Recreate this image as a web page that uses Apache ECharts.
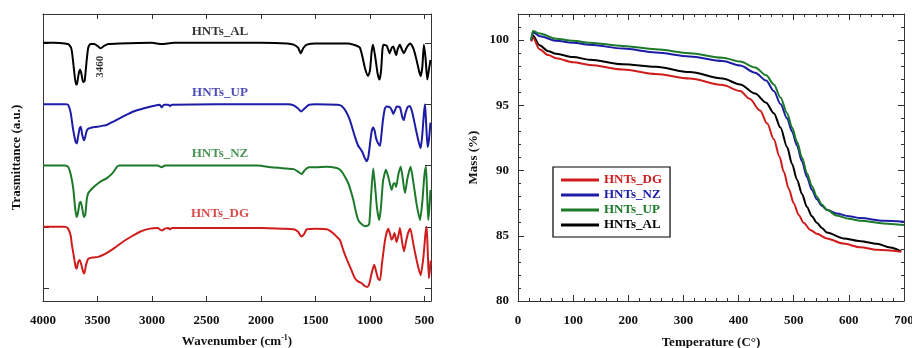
<!DOCTYPE html>
<html>
<head>
<meta charset="utf-8">
<script src="https://cdn.jsdelivr.net/npm/echarts@6/dist/echarts.min.js"></script>
<style>html,body{margin:0;padding:0;background:#fff}#c{width:912px;height:348px}</style>
</head>
<body>
<div id="c"></div>
<script>
// ---------- FTIR data: [wavenumber, stacked transmittance (a.u.)] ----------
const ftirAL = [[4000,4.0],[3900,4.0],[3800,3.99],[3760,3.97],[3737,3.88],[3715,3.55],[3697,3.32],[3688,3.33],[3672,3.5],[3660,3.56],[3648,3.5],[3632,3.36],[3618,3.38],[3600,3.7],[3585,3.92],[3565,3.98],[3530,3.98],[3500,3.95],[3470,3.91],[3440,3.95],[3400,3.98],[3300,3.99],[3000,4.0],[2911,3.98],[2800,4.0],[2000,4.0],[1760,3.99],[1700,3.97],[1660,3.92],[1635,3.83],[1610,3.92],[1580,3.97],[1500,3.99],[1200,3.99],[1150,3.97],[1120,3.95],[1092,3.92],[1070,3.78],[1045,3.58],[1018,3.46],[1000,3.55],[985,3.85],[972,3.97],[950,3.75],[930,3.5],[912,3.4],[898,3.55],[885,3.9],[875,3.97],[845,3.95],[820,3.83],[800,3.92],[786,3.94],[770,3.85],[760,3.8],[745,3.9],[725,3.97],[705,3.88],[688,3.83],[670,3.9],[650,3.96],[630,3.99],[600,3.9],[570,3.7],[548,3.53],[535,3.46],[520,3.6],[505,3.97],[490,3.75],[474,3.40],[460,3.55],[445,3.72]];
const ftirUP = [[4000,3.0],[3800,3.0],[3770,2.99],[3745,2.85],[3725,2.6],[3700,2.38],[3690,2.36],[3680,2.45],[3665,2.6],[3654,2.63],[3640,2.5],[3625,2.41],[3615,2.45],[3600,2.56],[3584,2.6],[3550,2.62],[3500,2.63],[3450,2.65],[3416,2.66],[3350,2.72],[3263,2.80],[3171,2.88],[3080,2.93],[2990,2.97],[2930,2.99],[2911,2.95],[2890,2.99],[2850,2.99],[2835,2.97],[2815,2.99],[2000,3.0],[1750,3.0],[1700,2.98],[1660,2.93],[1630,2.88],[1600,2.93],[1560,2.99],[1500,3.0],[1300,2.99],[1260,2.97],[1220,2.88],[1184,2.74],[1160,2.6],[1138,2.47],[1110,2.33],[1092,2.28],[1070,2.22],[1050,2.13],[1030,2.07],[1015,2.14],[1000,2.35],[985,2.55],[970,2.62],[955,2.55],[945,2.45],[925,2.36],[908,2.32],[895,2.5],[880,2.75],[863,2.93],[847,2.96],[817,2.95],[800,2.9],[786,2.84],[770,2.9],[755,2.96],[725,2.95],[705,2.8],[690,2.74],[675,2.85],[655,2.95],[633,2.97],[610,2.85],[580,2.6],[555,2.4],[535,2.28],[520,2.5],[505,2.85],[495,3.0],[485,2.7],[471,2.3],[460,2.4],[445,2.7]];
const ftirNZ = [[4000,2.0],[3800,2.0],[3770,1.98],[3745,1.85],[3722,1.62],[3705,1.3],[3691,1.16],[3680,1.22],[3665,1.38],[3654,1.41],[3640,1.3],[3625,1.16],[3612,1.2],[3598,1.45],[3584,1.55],[3540,1.64],[3493,1.71],[3450,1.76],[3416,1.79],[3360,1.88],[3320,1.98],[3300,2.0],[2950,2.0],[2911,1.97],[2880,2.0],[2030,2.0],[1900,1.97],[1764,1.95],[1700,1.94],[1660,1.9],[1627,1.86],[1600,1.92],[1560,1.97],[1500,1.97],[1400,1.98],[1306,1.96],[1275,1.93],[1240,1.85],[1199,1.71],[1175,1.58],[1153,1.44],[1130,1.25],[1107,1.11],[1075,1.04],[1046,1.01],[1020,1.02],[1006,1.05],[990,1.5],[970,1.95],[955,1.7],[935,1.3],[915,1.11],[900,1.3],[880,1.75],[853,1.93],[830,1.8],[801,1.6],[785,1.7],[771,1.71],[760,1.65],[740,1.85],[718,1.98],[700,1.8],[679,1.55],[655,1.8],[627,1.98],[600,1.7],[570,1.35],[541,1.11],[520,1.4],[500,1.85],[486,1.98],[475,1.5],[465,1.11],[455,1.3],[445,1.6]];
const ftirDG = [[4000,1.0],[3800,1.0],[3770,0.97],[3745,0.85],[3737,0.73],[3715,0.5],[3700,0.34],[3691,0.32],[3678,0.42],[3663,0.46],[3648,0.38],[3630,0.26],[3621,0.24],[3605,0.38],[3584,0.48],[3540,0.5],[3493,0.51],[3450,0.54],[3416,0.57],[3340,0.66],[3263,0.76],[3180,0.85],[3110,0.92],[3018,0.97],[2950,0.98],[2911,0.94],[2880,0.97],[2850,0.98],[2835,0.96],[2815,0.98],[2000,0.98],[1800,0.97],[1700,0.96],[1660,0.92],[1630,0.84],[1605,0.88],[1580,0.96],[1500,0.97],[1397,0.96],[1340,0.9],[1306,0.84],[1275,0.78],[1245,0.62],[1215,0.48],[1184,0.35],[1160,0.25],[1138,0.16],[1110,0.11],[1076,0.08],[1045,0.03],[1024,0.02],[1005,0.08],[985,0.24],[961,0.38],[945,0.28],[925,0.15],[908,0.13],[890,0.4],[860,0.8],[832,0.97],[815,0.88],[802,0.79],[790,0.82],[775,0.9],[756,0.75],[740,0.85],[725,0.98],[705,0.75],[688,0.6],[670,0.75],[650,0.9],[630,0.97],[600,0.7],[565,0.4],[535,0.21],[510,0.5],[490,0.9],[480,1.0],[470,0.6],[459,0.16],[450,0.3],[442,0.45]];
const ftirTicks = [4000, 3500, 3000, 2500, 2000, 1500, 1000, 500];
const ftirYTicks = [0, 1, 2, 3, 4];
// annotation text anchors in data coordinates [wavenumber, a.u.]
const ftirNotes = [
  { text: 'HNTs_AL', at: [2376, 4.18], key: 'AL', rotate: 0 },
  { text: 'HNTs_UP', at: [2376, 3.18], key: 'UP', rotate: 0 },
  { text: 'HNTs_NZ', at: [2376, 2.20], key: 'NZ', rotate: 0 },
  { text: 'HNTs_DG', at: [2376, 1.21], key: 'DG', rotate: 0 },
  { text: '3460', at: [3477, 3.61], key: 'AL', rotate: 90 }
];

// ---------- TGA data: [temperature °C, mass %] ----------
const tgaDG = [[24,99.9],[27,100.2],[39,99.3],[55,98.85],[69,98.6],[100,98.3],[130,98.1],[190,97.75],[250,97.4],[311,97.05],[371,96.55],[403,96.1],[420,95.5],[439,94.6],[452,93.6],[464,92.4],[474,91.1],[482,89.9],[491,88.6],[500,87.5],[509,86.6],[518,86.0],[530,85.45],[542,85.15],[560,84.8],[590,84.4],[621,84.12],[651,83.92],[695,83.78]];
const tgaNZ = [[24,100.0],[27,100.6],[40,100.3],[69,99.95],[100,99.8],[130,99.65],[190,99.35],[250,99.05],[311,98.75],[371,98.4],[403,98.05],[430,97.5],[450,96.9],[464,96.1],[476,95.1],[488,94.0],[497,93.0],[506,91.9],[515,90.7],[524,89.5],[533,88.5],[542,87.8],[551,87.3],[560,87.0],[578,86.7],[600,86.5],[621,86.36],[663,86.15],[700,86.08]];
const tgaUP = [[24,100.0],[27,100.7],[40,100.5],[69,100.1],[100,99.95],[130,99.8],[190,99.55],[250,99.3],[311,99.0],[371,98.65],[403,98.35],[430,97.9],[450,97.3],[464,96.6],[476,95.6],[488,94.4],[497,93.3],[506,92.2],[515,91.0],[524,89.8],[533,88.8],[542,88.0],[551,87.4],[560,87.0],[578,86.55],[600,86.3],[621,86.15],[663,85.95],[700,85.82]];
const tgaAL = [[24,99.95],[27,100.35],[39,99.6],[55,99.15],[69,98.95],[100,98.7],[130,98.5],[190,98.15],[250,97.95],[311,97.55],[371,97.05],[403,96.6],[430,95.9],[450,95.2],[464,94.4],[476,93.3],[488,91.8],[497,90.5],[506,89.3],[515,88.2],[524,87.2],[533,86.5],[542,86.0],[551,85.6],[560,85.25],[590,84.8],[621,84.58],[651,84.38],[675,84.1],[695,83.8]];
const legendOrder = ['HNTs_DG', 'HNTs_NZ', 'HNTs_UP', 'HNTs_AL'];

// ---------- styling ----------
const RED = '#cf1d1d', BLUE = '#1c1ca6', GREEN = '#1d7a2a', BLACK = '#000000';
const ftirColors = { AL: BLACK, UP: BLUE, NZ: GREEN, DG: RED };
const tgaColors = { HNTs_DG: RED, HNTs_NZ: BLUE, HNTs_UP: GREEN, HNTs_AL: BLACK };
const FONT = 'Liberation Serif';
const AX = '#333';

const chart = echarts.init(document.getElementById('c'), null, { renderer: 'canvas' });

const baseText = { fontFamily: FONT, fontWeight: 'bold', fontSize: 13, color: '#111' };

function frameAxis(o) {
  return Object.assign({
    axisLine: { show: true, onZero: false, lineStyle: { color: AX, width: 1 } },
    axisTick: { show: true, inside: true, length: 5, lineStyle: { color: AX } },
    axisLabel: { show: false },
    splitLine: { show: false }
  }, o);
}

const option = {
  animation: false,
  backgroundColor: '#fff',
  grid: [
    { left: 43, top: 14, width: 388, height: 287, containLabel: false, outerBoundsMode: 'none' },
    { left: 518, top: 14, width: 386, height: 287, containLabel: false, outerBoundsMode: 'none' }
  ],
  xAxis: [
    frameAxis({ gridIndex: 0, type: 'value', min: 440, max: 4000, inverse: true, position: 'bottom',
      axisTick: { show: true, inside: true, length: 5, customValues: ftirTicks, lineStyle: { color: AX } },
      axisLabel: Object.assign({ show: true, margin: 13, customValues: ftirTicks, formatter: v => String(v) }, baseText),
      name: 'Wavenumber (cm{sup|-1})', nameLocation: 'middle', nameGap: 33,
      nameTextStyle: Object.assign({}, baseText, { rich: { sup: { fontFamily: FONT, fontWeight: 'bold', fontSize: 8, padding: [0, 0, 8, 0] } } }) }),
    frameAxis({ gridIndex: 0, type: 'value', min: 440, max: 4000, inverse: true, position: 'top',
      axisTick: { show: true, inside: true, length: 5, customValues: ftirTicks, lineStyle: { color: AX } } }),
    frameAxis({ gridIndex: 1, type: 'value', min: 0, max: 700, interval: 100, position: 'bottom',
      minorTick: { show: true, splitNumber: 5, length: 3, lineStyle: { color: AX } },
      axisTick: { show: true, inside: true, length: 6, lineStyle: { color: AX } },
      axisLabel: Object.assign({ show: true, margin: 13, formatter: v => String(v) }, baseText),
      name: 'Temperature (C°)', nameLocation: 'middle', nameGap: 35, nameTextStyle: baseText }),
    frameAxis({ gridIndex: 1, type: 'value', min: 0, max: 700, interval: 100, position: 'top',
      minorTick: { show: true, splitNumber: 5, length: 3, lineStyle: { color: AX } },
      axisTick: { show: true, inside: true, length: 6, lineStyle: { color: AX } } })
  ],
  yAxis: [
    frameAxis({ gridIndex: 0, type: 'value', min: -0.21, max: 4.47, position: 'left',
      axisTick: { show: true, inside: true, length: 6, customValues: ftirYTicks, lineStyle: { color: AX } },
      name: 'Trasmittance (a.u.)', nameLocation: 'middle', nameGap: 20, nameTextStyle: baseText }),
    frameAxis({ gridIndex: 0, type: 'value', min: -0.21, max: 4.47, position: 'right',
      axisTick: { show: true, inside: true, length: 6, customValues: ftirYTicks, lineStyle: { color: AX } } }),
    frameAxis({ gridIndex: 1, type: 'value', min: 80, max: 102, interval: 5, position: 'left',
      minorTick: { show: true, splitNumber: 5, length: 3, lineStyle: { color: AX } },
      axisTick: { show: true, inside: true, length: 6, lineStyle: { color: AX } },
      axisLabel: Object.assign({ show: true, margin: 9, showMaxLabel: false }, baseText),
      name: 'Mass (%)', nameLocation: 'middle', nameGap: 38, nameTextStyle: baseText }),
    frameAxis({ gridIndex: 1, type: 'value', min: 80, max: 102, interval: 5, position: 'right',
      minorTick: { show: true, splitNumber: 5, length: 3, lineStyle: { color: AX } },
      axisTick: { show: true, inside: true, length: 6, lineStyle: { color: AX } } })
  ],
  legend: {
    orient: 'vertical', left: 553, top: 167,
    padding: [6, 8, 5, 8], borderColor: '#000', borderWidth: 1.2, borderRadius: 0,
    itemWidth: 38, itemHeight: 3, itemGap: 1, icon: 'rect',
    textStyle: { fontFamily: FONT, fontWeight: 'bold', fontSize: 13, lineHeight: 14 },
    data: legendOrder.map(n => ({ name: n, textStyle: { color: tgaColors[n] } }))
  },
  series: []
};

const ftirSets = { AL: ftirAL, UP: ftirUP, NZ: ftirNZ, DG: ftirDG };
Object.keys(ftirSets).forEach(k => {
  option.series.push({
    name: 'FTIR_' + k, type: 'line', xAxisIndex: 0, yAxisIndex: 0,
    data: ftirSets[k], showSymbol: false, symbol: 'none', smooth: 0.2,
    lineStyle: { color: ftirColors[k], width: 2 }, itemStyle: { color: ftirColors[k] }, z: 3
  });
});

option.series.push({
  name: 'FTIR_labels', type: 'scatter', xAxisIndex: 0, yAxisIndex: 0, symbolSize: 0, silent: true,
  data: ftirNotes.map(n => ({
    value: n.at,
    label: {
      show: true, position: 'inside', formatter: n.text, rotate: n.rotate,
      fontFamily: FONT, fontWeight: 'bold', fontSize: n.rotate ? 11 : 13, color: ftirColors[n.key]
    }
  })),
  z: 5
});

const tgaSets = { HNTs_DG: tgaDG, HNTs_NZ: tgaNZ, HNTs_UP: tgaUP, HNTs_AL: tgaAL };
['HNTs_AL', 'HNTs_DG', 'HNTs_NZ', 'HNTs_UP'].forEach(n => {
  const c = tgaColors[n];
  option.series.push({
    name: n, type: 'line', xAxisIndex: 2, yAxisIndex: 2,
    data: tgaSets[n], showSymbol: false, symbol: 'none', smooth: 0.3, smoothMonotone: 'x',
    lineStyle: { color: c, width: 2 }, itemStyle: { color: c }, z: 3
  });
});

chart.setOption(option);
</script>
</body>
</html>
